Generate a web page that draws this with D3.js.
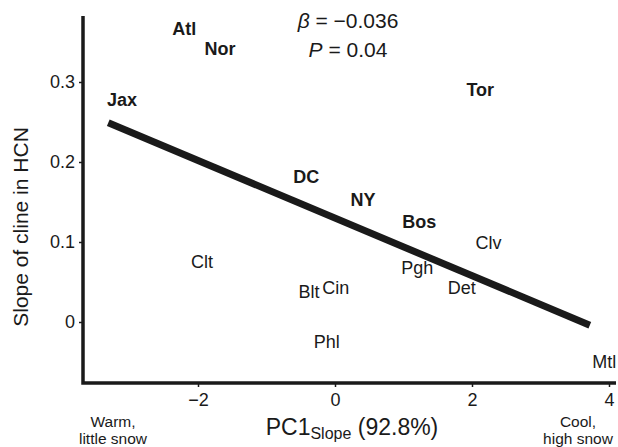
<!DOCTYPE html>
<html><head><meta charset="utf-8">
<script src="https://cdn.jsdelivr.net/npm/d3@7"></script>
<style>
body{margin:0;background:#fff;}
svg{font-family:"Liberation Sans",Arial,Helvetica,sans-serif;}
</style></head>
<body><svg id="c" width="618" height="447"></svg>
<script>
// Data
const cities = ["Atl","Nor","Jax","Tor","DC","NY","Bos","Clv","Pgh","Det","Cin","Blt","Phl","Mtl","Clt"];
const pc1 = [-2.20,-1.68,-3.11,2.12,-0.42,0.41,1.23,2.24,1.20,1.85,0.01,-0.38,-0.12,3.93,-1.94];
const clineSlope = [0.367,0.342,0.2775,0.29,0.182,0.1525,0.1256,0.099,0.0675,0.0425,0.0425,0.0375,-0.024,-0.05,0.076];
const boldCity = [true,true,true,true,true,true,true,false,false,false,false,false,false,false,false];
const fitX = [-3.31, 3.72];
const fitY = [0.249, -0.004];
const xTicks = [-2,0,2,4];
const yTicks = [0,0.1,0.2,0.3];
const xTickLabels = ["\u22122","0","2","4"];
const yTickLabels = ["0","0.1","0.2","0.3"];

const ink = "#1a1a1a";
const svg = d3.select("#c");
const x = d3.scaleLinear().domain([-2,4]).range([198,609]);
const y = d3.scaleLinear().domain([0,0.3]).range([322,82]);
const axLeft = 83, axBottom = 383, axTop = 16, axRight = 616;

// regression line
svg.append("line")
  .attr("x1", x(fitX[0])).attr("y1", y(fitY[0]))
  .attr("x2", x(fitX[1])).attr("y2", y(fitY[1]))
  .attr("stroke",ink).attr("stroke-width",7);

// axes
const xAxis = d3.axisBottom(x).tickValues(xTicks).tickFormat((d,i)=>xTickLabels[i]).tickSize(4).tickPadding(6);
const gx = svg.append("g").attr("transform",`translate(0,${axBottom})`).call(xAxis);
gx.select(".domain").remove();
gx.selectAll("line").attr("stroke",ink).attr("stroke-width",1.5);
gx.selectAll("text").attr("font-size",18).attr("fill",ink).attr("font-family","Liberation Sans, Arial, sans-serif");

const yAxis = d3.axisLeft(y).tickValues(yTicks).tickFormat((d,i)=>yTickLabels[i]).tickSize(4).tickPadding(4);
const gy = svg.append("g").attr("transform",`translate(${axLeft},0)`).call(yAxis);
gy.select(".domain").remove();
gy.selectAll("line").attr("stroke",ink).attr("stroke-width",1.5);
gy.selectAll("text").attr("font-size",18).attr("fill",ink).attr("font-family","Liberation Sans, Arial, sans-serif");

svg.append("path")
  .attr("d",`M${axLeft},${axTop}V${axBottom}H${axRight}`)
  .attr("fill","none").attr("stroke",ink).attr("stroke-width",3.5);

// city labels
svg.append("g").selectAll("text").data(cities).join("text")
  .attr("x",(d,i)=>x(pc1[i])).attr("y",(d,i)=>y(clineSlope[i]))
  .attr("dy","0.35em").attr("text-anchor","middle")
  .attr("font-size",18).attr("font-weight",(d,i)=>boldCity[i]?"bold":"normal")
  .attr("fill",ink).text(d=>d);

// annotation
const ann = svg.append("text").attr("x",348).attr("y",28).attr("text-anchor","middle").attr("font-size",21).attr("fill",ink);
ann.append("tspan").attr("font-style","italic").text("\u03B2");
ann.append("tspan").text(" = \u22120.036");
const ann2 = svg.append("text").attr("x",348).attr("y",57).attr("text-anchor","middle").attr("font-size",21).attr("fill",ink);
ann2.append("tspan").attr("font-style","italic").text("P");
ann2.append("tspan").text(" = 0.04");

// axis titles
const xt = svg.append("text").attr("x",352).attr("y",435).attr("text-anchor","middle").attr("font-size",23).attr("fill",ink);
xt.append("tspan").text("PC1");
xt.append("tspan").attr("font-size",16).attr("dy",4).text("Slope");
xt.append("tspan").attr("dy",-4).text(" (92.8%)");

svg.append("text").attr("transform","translate(28,227) rotate(-90)").attr("text-anchor","middle")
  .attr("font-size",21).attr("fill",ink).text("Slope of cline in HCN");

// end notes
const notes = [["Warm,","little snow",113],["Cool,","high snow",578]];
notes.forEach(n=>{
  svg.append("text").attr("x",n[2]).attr("y",427).attr("text-anchor","middle").attr("font-size",15.5).attr("fill",ink).text(n[0]);
  svg.append("text").attr("x",n[2]).attr("y",444).attr("text-anchor","middle").attr("font-size",15.5).attr("fill",ink).text(n[1]);
});
</script></body></html>
